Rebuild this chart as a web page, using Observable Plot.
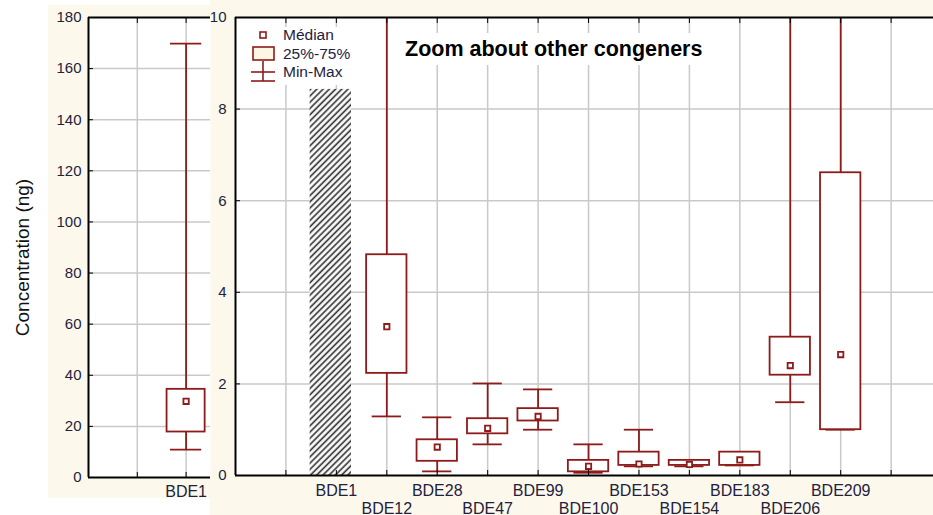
<!DOCTYPE html>
<html><head><meta charset="utf-8">
<script src="https://cdn.jsdelivr.net/npm/d3@7"></script>
<script src="https://cdn.jsdelivr.net/npm/@observablehq/plot@0.6"></script>
<style>
body{margin:0;background:#fff;}
#wrap{position:relative;width:933px;height:515px;overflow:hidden;font-family:"Liberation Sans",Arial,sans-serif;}
.cream{position:absolute;background:#fdf8ec;}
.abs{position:absolute;left:0;top:0;}
#title{position:absolute;left:399px;top:33px;width:310px;height:32px;background:#fff;font-weight:bold;font-size:21.5px;line-height:32px;padding-left:6px;box-sizing:border-box;color:#000;white-space:nowrap;}
#legend{position:absolute;left:245px;top:27px;width:112px;height:58px;background:#fff;}
#legend span{position:absolute;font-size:15.5px;color:#1e2240;white-space:nowrap;line-height:1;}
</style></head><body>
<div id="wrap">
  <div class="cream" style="left:48px;top:5px;width:162px;height:493px"></div>
  <div class="cream" style="left:210px;top:0;width:723px;height:515px"></div>
  <div id="left" class="abs"></div>
  <div id="right" class="abs"></div>
  <div id="legend">
    <svg width="112" height="58" style="position:absolute;left:0;top:0">
      <rect x="15" y="5" width="6" height="6" fill="#fff" stroke="#8e1b1b" stroke-width="1.6"/>
      <rect x="8" y="20" width="21" height="13" fill="#fdf6e4" stroke="#8e1b1b" stroke-width="1.6"/>
      <line x1="18" y1="34" x2="18" y2="54" stroke="#8e1b1b" stroke-width="1.6"/>
      <line x1="6" y1="45" x2="30" y2="45" stroke="#8e1b1b" stroke-width="1.6"/>
      <line x1="6" y1="54" x2="30" y2="54" stroke="#8e1b1b" stroke-width="1.6"/>
    </svg>
    <span style="left:38px;top:0px">Médian</span>
    <span style="left:38px;top:19px">25%-75%</span>
    <span style="left:38px;top:37px">Min-Max</span>
  </div>
  <div id="title">Zoom about other congeners</div>
</div>
<script>
// ---- data ----
const leftCategories = ["BDE1"];
const leftIndex = [2];
const leftMin = [10.9];
const leftQ1 = [17.8];
const leftMedian = [29.8];
const leftQ3 = [34.5];
const leftMax = [169.8];
const leftYTicks = [0, 20, 40, 60, 80, 100, 120, 140, 160, 180];

const rightCategories = ["BDE1","BDE12","BDE28","BDE47","BDE99","BDE100","BDE153","BDE154","BDE183","BDE206","BDE209"];
const rightIndex = [2,3,4,5,6,7,8,9,10,11,12];
const rightMin =    [null, 1.29, 0.09, 0.68, 1.00, 0.06, 0.20, 0.20, 0.22, 1.60, 1.00];
const rightQ1 =     [null, 2.23, 0.31, 0.91, 1.19, 0.08, 0.22, 0.22, 0.22, 2.19, 1.00];
const rightMedian = [null, 3.25, 0.62, 1.03, 1.29, 0.20, 0.25, 0.24, 0.34, 2.40, 2.64];
const rightQ3 =     [null, 4.82, 0.78, 1.24, 1.46, 0.33, 0.51, 0.33, 0.51, 3.02, 6.61];
const rightMax =    [null, 12.0, 1.27, 2.01, 1.88, 0.68, 1.00, 0.33, 0.51, 12.0, 12.0];
const outOfScale = ["BDE1"];        // shown as hatched break bar
const outOfScaleHeight = [8.43];
const rightYTicks = [0, 2, 4, 6, 8, 10];
const rightXTicks = [1,2,3,4,5,6,7,8,9,10,11,12,13];

// ---- build tables ----
const RED = "#8e1b1b", GRID = "#c9c9c9", TXT = "#1e2240";
const leftData = leftCategories.map((c, k) => ({c, i: leftIndex[k], min: leftMin[k], q1: leftQ1[k], med: leftMedian[k], q3: leftQ3[k], max: leftMax[k]}));
const rightData = rightCategories.map((c, k) => ({c, i: rightIndex[k], min: rightMin[k], q1: rightQ1[k], med: rightMedian[k], q3: rightQ3[k], max: rightMax[k]})).filter(d => d.med != null);
const hatchData = outOfScale.map((c, k) => ({c, i: rightIndex[rightCategories.indexOf(c)], h: outOfScaleHeight[k]}));
const nameAt = i => { const k = rightIndex.indexOf(i); return k < 0 ? "" : rightCategories[k]; };

const font = {fontFamily: "'Liberation Sans', Arial, sans-serif", background: "transparent", overflow: "visible"};
const blank = () => "";

// ---- left panel ----
const left = Plot.plot({
  width: 210, height: 515,
  marginLeft: 88, marginRight: 0, marginTop: 17, marginBottom: 38,
  style: font,
  x: {domain: [0, 2.5], label: null},
  y: {domain: [0, 180], label: null},
  marks: [
    Plot.frame({fill: "white", stroke: "none"}),
    Plot.gridY({ticks: leftYTicks.slice(1, -1), stroke: GRID, strokeOpacity: 1, strokeWidth: 1.5}),
    Plot.gridX({ticks: [1, 2], stroke: GRID, strokeOpacity: 1, strokeWidth: 1.5}),
    Plot.ruleX(leftData, {x: "i", y1: "min", y2: "max", stroke: RED, strokeWidth: 1.8}),
    Plot.ruleY(leftData, {y: "min", x1: d => d.i - 0.32, x2: d => d.i + 0.32, stroke: RED, strokeWidth: 1.8}),
    Plot.ruleY(leftData, {y: "max", x1: d => d.i - 0.32, x2: d => d.i + 0.32, stroke: RED, strokeWidth: 1.8}),
    Plot.rect(leftData, {x1: d => d.i - 0.39, x2: d => d.i + 0.39, y1: "q1", y2: "q3", fill: "white", stroke: RED, strokeWidth: 1.8}),
    Plot.dot(leftData, {x: "i", y: "med", symbol: "square", r: 3, fill: "white", stroke: RED, strokeWidth: 1.8}),
    Plot.axisY({ticks: leftYTicks, tickSize: 0, tickPadding: 7, fontSize: 15, color: TXT, label: null}),
    Plot.axisY({ticks: leftYTicks, tickSize: -5, tickFormat: blank, stroke: "#000", label: null}),
    Plot.axisX({ticks: leftIndex, tickSize: 0, tickPadding: 8, fontSize: 16, color: TXT, label: null, tickFormat: i => leftCategories[leftIndex.indexOf(i)]}),
    Plot.axisX({ticks: [1, 2], tickSize: -5, tickFormat: blank, stroke: "#000", label: null}),
    Plot.axisX({anchor: "top", ticks: [1, 2], tickSize: -5, tickFormat: blank, stroke: "#000", label: null}),
    Plot.ruleY([0], {stroke: "#000", strokeWidth: 2}),
    Plot.ruleY([180], {stroke: "#000", strokeWidth: 2}),
    Plot.ruleX([0], {stroke: "#000", strokeWidth: 2}),
    Plot.text(["Concentration (ng)"], {frameAnchor: "left", dx: -66, dy: 10, rotate: -90, textAnchor: "middle", fontSize: 19, fill: "#111"})
  ]
});
document.getElementById("left").append(left);

// ---- right panel ----
const right = Plot.plot({
  width: 933, height: 515,
  marginLeft: 235, marginRight: 0, marginTop: 17, marginBottom: 40,
  style: font,
  x: {domain: [0, 13.84], label: null},
  y: {domain: [0, 10], label: null},
  marks: [
    Plot.frame({fill: "white", stroke: "none"}),
    Plot.gridY({ticks: [2, 4, 6, 8], stroke: GRID, strokeOpacity: 1, strokeWidth: 1.5}),
    Plot.gridX({ticks: rightXTicks, stroke: GRID, strokeOpacity: 1, strokeWidth: 1.5}),
    Plot.rect(hatchData, {x1: d => d.i - 0.52, x2: d => d.i + 0.3, y1: 0, y2: "h", fill: "url(#hatch)"}),
    Plot.ruleX(rightData, {x: "i", y1: "min", y2: "max", stroke: RED, strokeWidth: 1.8, clip: true}),
    Plot.ruleY(rightData, {y: "min", x1: d => d.i - 0.29, x2: d => d.i + 0.29, stroke: RED, strokeWidth: 1.8, clip: true}),
    Plot.ruleY(rightData, {y: "max", x1: d => d.i - 0.29, x2: d => d.i + 0.29, stroke: RED, strokeWidth: 1.8, clip: true}),
    Plot.rect(rightData, {x1: d => d.i - 0.4, x2: d => d.i + 0.4, y1: "q1", y2: "q3", fill: "white", stroke: RED, strokeWidth: 1.8}),
    Plot.dot(rightData, {x: "i", y: "med", symbol: "square", r: 3, fill: "white", stroke: RED, strokeWidth: 1.8}),
    Plot.axisY({ticks: rightYTicks, tickSize: 0, tickPadding: 9, fontSize: 15, color: TXT, label: null}),
    Plot.axisY({ticks: rightYTicks, tickSize: -5, tickFormat: blank, stroke: "#000", label: null}),
    Plot.axisX({ticks: rightIndex.filter((d, k) => k % 2 === 0), tickSize: 0, tickPadding: 9, fontSize: 16, color: TXT, label: null, tickFormat: nameAt}),
    Plot.axisX({ticks: rightIndex.filter((d, k) => k % 2 === 1), tickSize: 0, tickPadding: 27, fontSize: 16, color: TXT, label: null, tickFormat: nameAt}),
    Plot.axisX({ticks: rightXTicks, tickSize: -5, tickFormat: blank, stroke: "#000", label: null}),
    Plot.axisX({anchor: "top", ticks: rightXTicks, tickSize: -5, tickFormat: blank, stroke: "#000", label: null}),
    Plot.ruleY([0], {stroke: "#000", strokeWidth: 2}),
    Plot.ruleY([10], {stroke: "#000", strokeWidth: 2}),
    Plot.ruleX([0], {stroke: "#000", strokeWidth: 2})
  ]
});
const defs = d3.select(right).insert("defs", ":first-child");
const pat = defs.append("pattern").attr("id", "hatch").attr("patternUnits", "userSpaceOnUse")
  .attr("width", 4.4).attr("height", 4.4).attr("patternTransform", "rotate(45)");
pat.append("rect").attr("width", 4.4).attr("height", 4.4).attr("fill", "#fafafa");
pat.append("line").attr("x1", 1.1).attr("y1", 0).attr("x2", 1.1).attr("y2", 4.4).attr("stroke", "#333").attr("stroke-width", 1.6);
document.getElementById("right").append(right);
</script>
</body></html>
